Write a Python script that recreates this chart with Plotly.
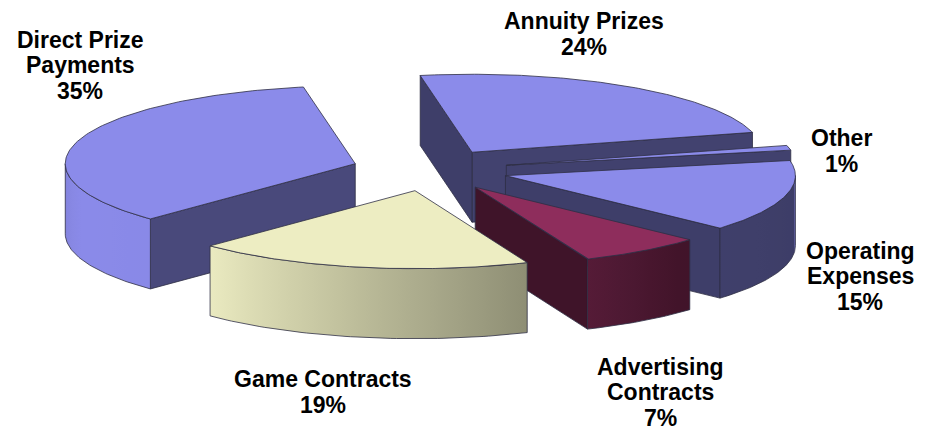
import numpy as np
import plotly.graph_objects as go

# ---------------- data ----------------
labels = ["Annuity Prizes", "Other", "Operating Expenses",
          "Advertising Contracts", "Game Contracts", "Direct Prize Payments"]
label_text = ["Annuity Prizes", "Other", "Operating<br>Expenses",
              "Advertising<br>Contracts", "Game Contracts", "Direct Prize<br>Payments"]
values = [24, 1, 15, 7, 19, 35]

# ---------------- style ----------------
colors = ["#8B8BEA", "#8B8BEA", "#8B8BEA", "#8E2D5C", "#EDEDC2", "#8B8BEA"]
pull = [0.27, 0.27, 0.27, 0.27, 0.27, 0.27]
label_pos = [(584, 34), (841, 151), (860, 276), (660, 392), (323, 392), (80, 65)]
LINE_GAP = 25.5
FONT_SIZE = 23

CX, CY = 430, 170      # pie centre (page px)
A, B = 290, 78         # ellipse radii of top face (px)
H = 70                 # pie thickness (px)
START = 100.3          # angle of first slice edge, slices run clockwise
EDGE = dict(color="#2E2E44", width=0.8)
PAGE_OFF = 8           # browser default body margin


def hex2rgb(h):
    h = h.lstrip("#")
    return tuple(int(h[i:i + 2], 16) for i in (0, 2, 4))


def shade(col, f):
    r, g, b = hex2rgb(col)
    return "rgb(%d,%d,%d)" % (min(255, r * f), min(255, g * f), min(255, b * f))


def wall_factor(theta):
    t = theta % 360
    return float(np.interp(t, [180, 200, 225, 293, 315, 360],
                           [0.94, 1.0, 0.99, 0.60, 0.46, 0.44]))


total = float(sum(values))
fracs = [v / total for v in values]

slices = []
cum = 0.0
for i, f in enumerate(fracs):
    t_end = START - cum * 360
    t_start = t_end - f * 360
    cum += f
    mid = np.radians((t_start + t_end) / 2)
    ox = CX + pull[i] * A * np.cos(mid)
    oy = CY - pull[i] * B * np.sin(mid)
    slices.append(dict(i=i, t0=t_start, t1=t_end, ox=ox, oy=oy,
                       depth=-np.sin(mid)))


def rim(s, th_deg, dz=0.0):
    th = np.radians(th_deg)
    return s["ox"] + A * np.cos(th), s["oy"] - B * np.sin(th) + dz


fig = go.Figure()


def add_poly(xs, ys, fill, grad=None):
    kw = dict(x=list(xs) + [xs[0]], y=list(ys) + [ys[0]], mode="lines",
              fill="toself", line=EDGE, hoverinfo="skip", showlegend=False)
    if grad is not None:
        kw["fillgradient"] = dict(type="horizontal", colorscale=grad)
    else:
        kw["fillcolor"] = fill
    fig.add_trace(go.Scatter(**kw))


for s in sorted(slices, key=lambda d: d["depth"]):
    i = s["i"]
    col = colors[i]
    ax, ay = s["ox"], s["oy"]

    # radial walls (only those facing the viewer)
    t0r, t1r = np.radians(s["t0"]), np.radians(s["t1"])
    for t, vis, nx in ((s["t0"], np.cos(t0r) > 0, np.sin(t0r)),
                       (s["t1"], np.cos(t1r) < 0, -np.sin(t1r))):
        if vis:
            rx, ry = rim(s, t)
            f = 0.45 + 0.11 * max(0.0, nx)
            add_poly([ax, rx, rx, ax], [ay, ry, ry + H, ay + H], shade(col, f))

    # outer curved wall (front half only)
    for k in (-1, 0, 1):
        lo = max(s["t0"], 180 + 360 * k)
        hi = min(s["t1"], 360 + 360 * k)
        if hi - lo > 0.2:
            th = np.linspace(lo, hi, 60)
            tx, ty = rim(s, th)
            xs = list(tx) + list(tx[::-1])
            ys = list(ty) + list((ty + H)[::-1])
            xmin, xmax = tx.min(), tx.max()
            samp = np.linspace(lo, hi, 8)
            sx, _ = rim(s, samp)
            stops = []
            for x_, t_ in sorted(zip(sx, samp)):
                p = 0.0 if xmax == xmin else (x_ - xmin) / (xmax - xmin)
                p = min(1.0, max(0.0, p))
                if stops and p <= stops[-1][0]:
                    continue
                stops.append([p, shade(col, wall_factor(t_))])
            stops[0][0] = 0.0
            if stops[-1][0] < 1.0:
                stops.append([1.0, stops[-1][1]])
            add_poly(xs, ys, None, grad=stops)

    # top face
    th = np.linspace(s["t0"], s["t1"], 120)
    tx, ty = rim(s, th)
    add_poly([ax] + list(tx), [ay] + list(ty), col)

# labels: one text line per annotation for tight line spacing
for i, (x, y) in enumerate(label_pos):
    lines = label_text[i].split("<br>") + [f"{values[i]}%"]
    n = len(lines)
    for k, ln in enumerate(lines):
        fig.add_annotation(x=x, y=y + (k - (n - 1) / 2) * LINE_GAP,
                           xref="x", yref="y", text=ln,
                           showarrow=False, xanchor="center", yanchor="middle",
                           font=dict(family="Liberation Sans, Arial, sans-serif",
                                     size=FONT_SIZE, color="black", weight="bold"))

W, Hh = 925, 431
fig.update_layout(
    width=W - PAGE_OFF, height=Hh - PAGE_OFF,
    margin=dict(l=0, r=0, t=0, b=0, pad=0),
    paper_bgcolor="white", plot_bgcolor="white",
    xaxis=dict(range=[PAGE_OFF, W], visible=False, fixedrange=True),
    yaxis=dict(range=[Hh, PAGE_OFF], visible=False, fixedrange=True),
    showlegend=False,
)

fig.write_html("out.html")
